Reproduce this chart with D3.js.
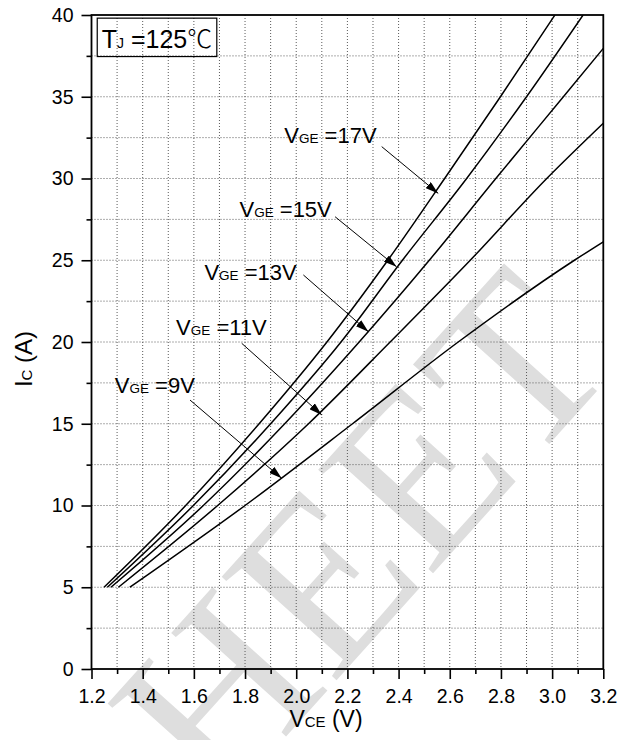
<!DOCTYPE html>
<html>
<head>
<meta charset="utf-8">
<script src="https://cdn.jsdelivr.net/npm/d3@7"></script>
<style>
  body { margin: 0; background: #fff; }
  svg { display: block; }
  text { font-family: "Liberation Sans", Arial, sans-serif; fill: #000; }
</style>
</head>
<body>
<svg id="chart" width="629" height="740"></svg>
<script>
// Output characteristic, Tj = 125 C: [Vce (V), Ic (A)]
const curve17 = [[1.249, 5], [1.568, 10], [1.855, 15], [2.120, 20], [2.358, 25], [2.580, 30], [2.798, 35], [3.011, 40]];
const curve15 = [[1.262, 5], [1.598, 10], [1.900, 15], [2.175, 20], [2.415, 25], [2.666, 30], [2.900, 35], [3.121, 40]];
const curve13 = [[1.276, 5], [1.637, 10], [1.955, 15], [2.246, 20], [2.520, 25], [2.780, 30], [3.044, 35], [3.200, 37.96]];
const curve11 = [[1.305, 5], [1.693, 10], [2.048, 15], [2.367, 20], [2.680, 25], [2.979, 30], [3.200, 33.38]];
const curve9  = [[1.350, 5], [1.800, 10], [2.220, 15], [2.633, 20], [3.087, 25], [3.200, 26.13]];

const curves = [curve17, curve15, curve13, curve11, curve9];
const vgeLabels = ['17V', '15V', '13V', '11V', '9V'];

// Callouts in data units: label end (V, A), arrow tail (V, A), arrow tip (V, A)
const labelEnd  = [[2.314, 32.17], [2.139, 27.65], [2.002, 23.79], [1.885, 20.43], [1.604, 16.88]];
const arrowFrom = [[2.334, 31.95], [2.152, 27.66], [2.028, 24.10], [1.787, 19.92], [1.585, 16.45]];
const arrowTip  = [[2.555, 29.09], [2.392, 24.60], [2.282, 20.63], [2.100, 15.54], [1.943, 11.66]];

const xMajor = [1.2, 1.4, 1.6, 1.8, 2.0, 2.2, 2.4, 2.6, 2.8, 3.0, 3.2];
const xMinor = [1.3, 1.5, 1.7, 1.9, 2.1, 2.3, 2.5, 2.7, 2.9, 3.1];
const yMajor = [0, 5, 10, 15, 20, 25, 30, 35, 40];
const yMinor = [2.5, 7.5, 12.5, 17.5, 22.5, 27.5, 32.5, 37.5];

const plot = { left: 91.5, right: 603.3, top: 15, bottom: 669 };

const svg = d3.select('#chart');
const x = d3.scaleLinear().domain([1.2, 3.2]).range([plot.left, plot.right]);
const y = d3.scaleLinear().domain([0, 40]).range([plot.bottom, plot.top]);

// Watermark
svg.append('text')
    .attr('transform', 'translate(218,812) rotate(-48)')
    .style('font-family', '"Liberation Serif", "DejaVu Serif", serif')
    .attr('font-size', 236)
    .style('fill', '#dedede')
    .text('HEET');

// Dotted grid on every minor step
const gridX = xMajor.concat(xMinor).filter(v => v > 1.2 && v < 3.2);
const gridY = yMajor.concat(yMinor).filter(v => v > 0 && v < 40);
const grid = svg.append('g').attr('stroke', '#5a5a5a').attr('stroke-width', 1).attr('stroke-dasharray', '1,2');
grid.selectAll('line.gx').data(gridX).join('line')
    .attr('class', 'gx')
    .attr('x1', d => x(d)).attr('x2', d => x(d))
    .attr('y1', plot.top).attr('y2', plot.bottom);
grid.selectAll('line.gy').data(gridY).join('line')
    .attr('class', 'gy')
    .attr('x1', plot.left).attr('x2', plot.right)
    .attr('y1', d => y(d)).attr('y2', d => y(d));

// Axes (ticks only; frame drawn separately)
const fmtX = d3.format('.1f');
const xAxis = svg.append('g').attr('transform', `translate(0,${plot.bottom})`)
    .call(d3.axisBottom(x).tickValues(xMajor).tickSize(10).tickPadding(8).tickFormat(fmtX));
svg.append('g').attr('transform', `translate(0,${plot.bottom})`)
    .call(d3.axisBottom(x).tickValues(xMinor).tickSize(5).tickFormat(''));
svg.append('g').attr('transform', `translate(${plot.left},0)`)
    .call(d3.axisLeft(y).tickValues(yMajor).tickSize(10).tickPadding(8));
svg.append('g').attr('transform', `translate(${plot.left},0)`)
    .call(d3.axisLeft(y).tickValues(yMinor).tickSize(5).tickFormat(''));

svg.selectAll('.domain').remove();
svg.selectAll('.tick line').attr('stroke', '#000').attr('stroke-width', 1.6);
svg.selectAll('.tick text').attr('font-size', 19.5).attr('font-family', '"Liberation Sans", Arial, sans-serif');
xAxis.selectAll('.tick text').attr('y', 20).attr('dy', '0.71em');

// Frame
svg.append('rect')
    .attr('x', plot.left).attr('y', plot.top)
    .attr('width', plot.right - plot.left).attr('height', plot.bottom - plot.top)
    .attr('fill', 'none').attr('stroke', '#000').attr('stroke-width', 1.8);

// Curves
const defs = svg.append('defs');
defs.append('clipPath').attr('id', 'plot-clip')
    .append('rect').attr('x', plot.left).attr('y', plot.top)
    .attr('width', plot.right - plot.left).attr('height', plot.bottom - plot.top);

const line = d3.line()
    .x(d => x(d[0]))
    .y(d => y(d[1]))
    .curve(d3.curveMonotoneX);

svg.append('g').attr('clip-path', 'url(#plot-clip)')
    .selectAll('path').data(curves).join('path')
    .attr('d', line)
    .attr('fill', 'none')
    .attr('stroke', '#000')
    .attr('stroke-width', 1.5);

// Arrow callouts
defs.append('marker')
    .attr('id', 'arrow')
    .attr('markerUnits', 'userSpaceOnUse')
    .attr('markerWidth', 13).attr('markerHeight', 8)
    .attr('refX', 13).attr('refY', 4)
    .attr('orient', 'auto')
    .append('path').attr('d', 'M0,0 L13,4 L0,8 Z').attr('fill', '#000');

vgeLabels.forEach((lab, i) => {
    svg.append('line')
        .attr('x1', x(arrowFrom[i][0])).attr('y1', y(arrowFrom[i][1]))
        .attr('x2', x(arrowTip[i][0])).attr('y2', y(arrowTip[i][1]))
        .attr('stroke', '#000').attr('stroke-width', 1)
        .attr('marker-end', 'url(#arrow)');

    const t = svg.append('text')
        .attr('x', x(labelEnd[i][0])).attr('y', y(labelEnd[i][1]))
        .attr('text-anchor', 'end')
        .attr('font-size', 22);
    t.append('tspan').text('V');
    t.append('tspan').attr('font-size', 13.5).text('GE');
    t.append('tspan').text('\u00a0=' + lab);
});

// Tj box
const tj = svg.append('text')
    .attr('x', x(1.240)).attr('y', y(37.96))
    .attr('font-size', 25);
tj.append('tspan').text('T');
tj.append('tspan').attr('font-size', 14).text('J');
tj.append('tspan').text('\u00a0=125');
tj.append('tspan').style('font-family', '"Noto Sans CJK SC", "DejaVu Sans", sans-serif').attr('font-weight', 300).text('\u2103');
const bb = tj.node().getBBox();
svg.append('rect')
    .attr('x', bb.x - 4.5).attr('y', bb.y - 1.2)
    .attr('width', bb.width + 9).attr('height', bb.height + 2.4)
    .attr('fill', 'none').attr('stroke', '#000').attr('stroke-width', 1.2);

// Axis titles
const xt = svg.append('text')
    .attr('x', 326).attr('y', 727)
    .attr('text-anchor', 'middle')
    .attr('font-size', 23);
xt.append('tspan').text('V');
xt.append('tspan').attr('font-size', 15).text('CE');
xt.append('tspan').text('\u00a0(V)');

const yt = svg.append('text')
    .attr('transform', 'translate(32,359) rotate(-90)')
    .attr('text-anchor', 'middle')
    .attr('font-size', 24);
yt.append('tspan').text('I');
yt.append('tspan').attr('font-size', 15).text('C');
yt.append('tspan').text('\u00a0(A)');
</script>
</body>
</html>
